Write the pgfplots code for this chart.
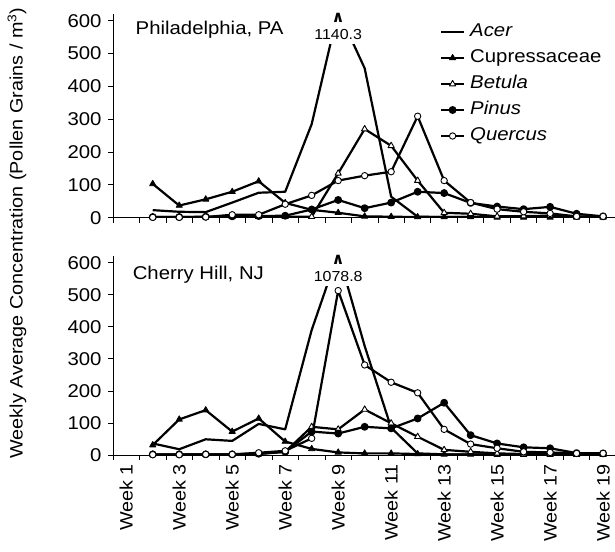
\documentclass[border=0pt]{standalone}
\usepackage{pgfplots}
\pgfplotsset{compat=1.18}
\usepackage{pgfplotstable}
\usepackage{fontspec}
\setmainfont{Liberation Sans}[FakeStretch=1.1]
\newfontfamily\dejavu{DejaVu Sans}

% weekly averages, week 9 Acer capped (true value in label)
\pgfplotstableread{
week acer cupr betula pinus quercus
2  23  103 2   2  1
3  18  37  2   2  1
4  17  56  2   3  2
5  46  79  3   4  9
6  76  111 3   5  9
7  79  45  3   6  41
8  285 24  3   25 68
9  630 15  135 54 113
10 455 4   270 29 128
11 64  3   219 46 140
12 3   2   113 79 309
13 2   2   15  75 113
14 2   2   12  45 46
15 1   1   4   34 26
16 1   1   5   26 18
17 1   1   6   33 13
18 1   1   3   12 4
19 1   1   3   4  4
}\phila

\pgfplotstableread{
week acer cupr betula pinus quercus
2  36  31  2   2   1
3  18  111 2   2   1
4  49  140 2   2   2
5  44  73  2   2   2
6  97  114 3   4   7
7  80  42  10  10  13
8  390 19  88  73  52
9  630 8   80  67  513
10 340 5   142 88  281
11 85  5   99  83  227
12 5   3   57  114 194
13 2   2   16  163 80
14 2   2   10  62  34
15 1   1   5   36  21
16 1   1   3   24  10
17 1   1   3   21  8
18 1   1   3   6   5
19 1   1   3   5   5
}\cherry

\pgfplotsset{
  panel/.style={
    scale only axis, width=502pt,
    xmin=0.5, xmax=19.45, ymin=0, ymax=620,
    axis x line=bottom, axis y line=left,
    axis line style={-, line width=0.8pt},
    ytick={0,100,...,600}, minor ytick={0,100,...,600},
    xtick={1,3,...,19}, minor xtick={0.5,1.5,...,19.5},
    major tick length=0pt, minor tick length=5pt,
    tick align=outside, tick style={black, line width=0.8pt},
    clip mode=individual,
    /pgf/number format/assume math mode=true,
    font=\fontsize{18.5}{22}\selectfont,
    yticklabel style={xshift=-8pt},
  },
  ser/.style={black, line width=2.2pt, line join=round},
  cup/.style={ser, mark=triangle*, mark size=3.6pt, mark options={solid, fill=black, line width=0.8pt}},
  bet/.style={ser, mark=triangle*, mark size=3.6pt, mark options={solid, fill=white, draw=black, line width=0.9pt}},
  pin/.style={ser, mark=*, mark size=2.8pt, mark options={solid, fill=black}},
  que/.style={ser, mark=*, mark size=3.2pt, mark options={solid, fill=white, draw=black, line width=0.9pt}},
}
\tikzset{peak/.style={fill=white, anchor=south, inner xsep=2pt, inner ysep=5pt, align=center,
    font=\fontsize{14.5}{17}\selectfont}}

\begin{document}
\begin{tikzpicture}
\useasboundingbox (0,0) rectangle (615pt,551pt);

\begin{axis}[panel, at={(113pt,333.3pt)}, anchor=south west, height=203.6pt,
  xticklabels={},
  legend style={at={(0.651,0.956)}, anchor=north west, draw=none, fill=none,
    inner sep=0pt, row sep=8.5pt, cells={anchor=west},
    nodes={inner sep=0pt, text height=13.5pt, text depth=4pt},
    /tikz/every odd column/.append style={column sep=5pt}},
  legend image code/.code={\draw[mark repeat=2,mark phase=2] plot coordinates {(0pt,0pt) (11.5pt,0pt) (23pt,0pt)};},
]
\addplot[ser] table[x=week,y=acer]{\phila};
\addplot[cup] table[x=week,y=cupr]{\phila};
\addplot[bet] table[x=week,y=betula]{\phila};
\addplot[pin] table[x=week,y=pinus]{\phila};
\addplot[que] table[x=week,y=quercus]{\phila};
\legend{\textit{Acer},Cupressaceae,\textit{Betula},\textit{Pinus},\textit{Quercus}}
\node[anchor=west, inner sep=0pt, font=\fontsize{18.5}{22}\selectfont] at (axis cs:1.35,572) {Philadelphia, PA};
\node[peak] at (axis cs:9,527) {{\dejavu\bfseries\fontsize{16}{16}\selectfont ∧}\\1140.3};
\end{axis}

\begin{axis}[panel, at={(113pt,96pt)}, anchor=south west, height=198.7pt,
  xticklabels={Week 1,Week 3,Week 5,Week 7,Week 9,Week 11,Week 13,Week 15,Week 17,Week 19},
  xticklabel style={rotate=90, anchor=east, inner xsep=9pt, inner ysep=0pt, font=\fontsize{18}{20}\selectfont},
]
\addplot[ser] table[x=week,y=acer]{\cherry};
\addplot[cup] table[x=week,y=cupr]{\cherry};
\addplot[bet] table[x=week,y=betula]{\cherry};
\addplot[pin] table[x=week,y=pinus]{\cherry};
\addplot[que] table[x=week,y=quercus]{\cherry};
\node[anchor=west, inner sep=0pt, font=\fontsize{18.5}{22}\selectfont] at (axis cs:1.24,562) {Cherry Hill, NJ};
\node[peak] at (axis cs:9,526) {{\dejavu\bfseries\fontsize{16}{16}\selectfont ∧}\\1078.8};
\end{axis}

\node[rotate=90, font=\fontsize{18}{20}\selectfont] at (17pt,318pt)
  {Weekly Average Concentration (Pollen Grains / m\textsuperscript{3})};
\end{tikzpicture}
\end{document}
